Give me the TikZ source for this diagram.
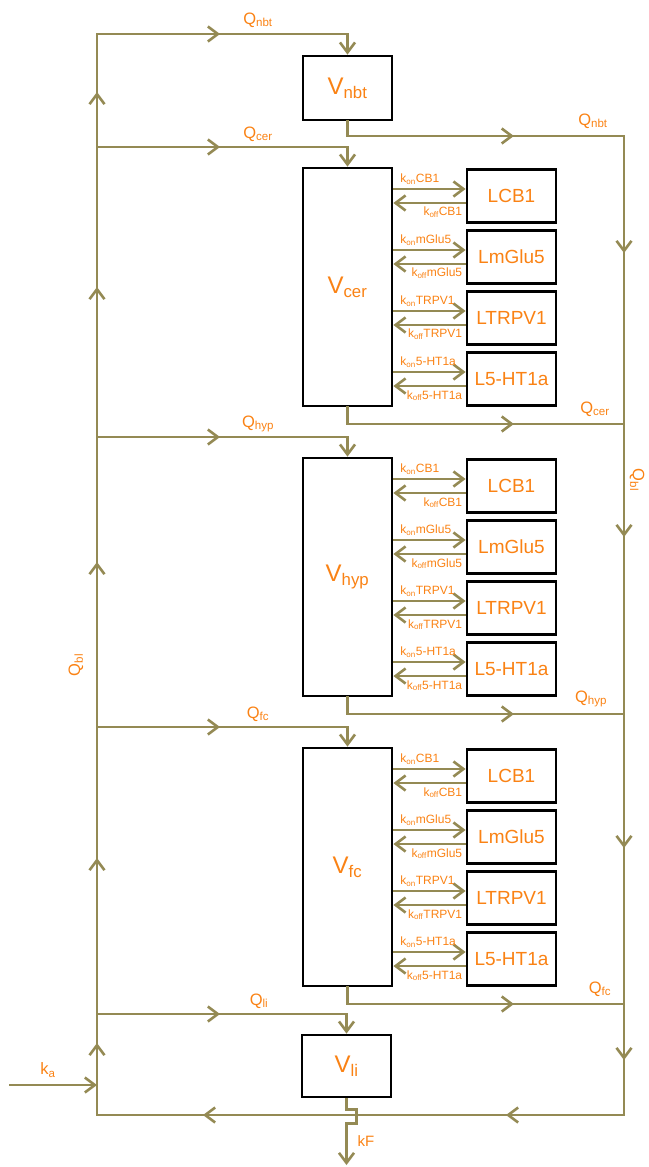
\documentclass[tikz,border=0pt]{standalone}
\usepackage{fontspec}
\setmainfont{Liberation Sans}
\usetikzlibrary{arrows.meta,decorations.markings}

\definecolor{flowc}{HTML}{948A54}
\definecolor{labc}{RGB}{250,130,20}

\tikzset{
  flow/.style={draw,color=flowc,line width=2.6pt},
  barb/.tip={Straight Barb[length=10pt,width=15pt]},
  midarr/.style={postaction={decorate,decoration={markings,mark=at position #1 with {\arrow{barb}}}}},
  vol/.style={draw=black,line width=2.8pt,fill=white,text=labc,minimum width=89pt,inner sep=0pt,font=\fontsize{24}{28}\selectfont},
  rec/.style={draw=black,line width=2.8pt,fill=white,text=labc,minimum width=89pt,minimum height=53pt,inner sep=0pt,font=\fontsize{19}{22}\selectfont},
  qlab/.style={text=labc,inner sep=0pt,font=\fontsize{16.5}{19}\selectfont},
  klab/.style={text=labc,inner sep=0pt,font=\fontsize{12}{14}\selectfont}
}

\begin{document}
\begin{tikzpicture}[x=1pt,y=-1pt]
\useasboundingbox (0,0) rectangle (648,1167);

\node[vol,minimum height=64pt] (nbt) at (347.5,88) {V\textsubscript{nbt}};
\node[vol,minimum height=62pt] (li) at (346.5,1066) {V\textsubscript{li}};

\coordinate (lbtop) at (97,34);
\coordinate (lbbot) at (97,1115);
\coordinate (rbtop) at (624,136);
\coordinate (rbbot) at (624,1115);
\coordinate (kain) at (9,1085);
\coordinate (kfout) at (346.5,1165);

\foreach \c/\b/\qx in {cer/0/595,hyp/290/591,fc/580/600}{
  \node[vol,minimum height=238pt] (\c) at (347.5,{287+\b}) {V\textsubscript{\c}};
  \foreach \r [count=\i] in {CB1,mGlu5,TRPV1,5-HT1a}{
    \node[rec] (\c\i) at (511.5,{135+61*\i+\b}) {L\r};
    \coordinate (on\c\i) at ([yshift=7pt]\c\i.west);
    \coordinate (off\c\i) at ([yshift=-7pt]\c\i.west);
    \draw[flow,-{barb}] (\c.east |- on\c\i) -- (on\c\i)
      node[klab,pos=0.08,anchor=south west,yshift=3pt] {k\textsubscript{on}\r};
    \draw[flow,-{barb}] (off\c\i) -- (\c.east |- off\c\i)
      node[klab,pos=0.03,anchor=north east,yshift=-3pt] {k\textsubscript{off}\r};
  }
  \draw[flow,-{barb},midarr=123pt] (97,{147+\b}) -| (\c.north);
  \draw[flow,line cap=rect,midarr=183pt] (\c.south) |- (624,{424+\b});
  \node[qlab] at (258,{134+\b}) {Q\textsubscript{\c}};
  \node[qlab] at (\qx,{409+\b}) {Q\textsubscript{\c}};
}

\draw[flow,-{barb},midarr=117pt,midarr=401pt,midarr=712pt,midarr=924pt,
  midarr=1097pt,midarr=1400pt,midarr=1578pt,midarr=1763pt,midarr=2059pt,
  midarr=2334pt,midarr=2529pt,midarr=2710pt]
  (rbtop) -- (rbbot) -- (lbbot) -- (lbtop) -| (nbt.north);
\draw[flow,line cap=rect,midarr=181pt] (nbt.south) |- (rbtop);
\draw[flow,-{barb},midarr=123pt] (97,1014) -| (li.north);
\draw[flow,-{barb}] (kain) -- (97,1085);
\draw[flow,-{barb}] (li.south) -- ++(0,11) -- ++(10,0) -- ++(0,14) -- ++(-10,0) -- (kfout);

\node[qlab] at (258,20) {Q\textsubscript{nbt}};
\node[qlab] at (593,121) {Q\textsubscript{nbt}};
\node[qlab] at (259,1001) {Q\textsubscript{li}};
\node[qlab] at (48,1070) {k\textsubscript{a}};
\node[qlab,font=\fontsize{15}{18}\selectfont] at (366,1141) {kF};
\node[qlab,rotate=-90] at (637,480) {Q\textsubscript{bl}};
\node[qlab,rotate=90] at (76,665) {Q\textsubscript{bl}};
\end{tikzpicture}
\end{document}
